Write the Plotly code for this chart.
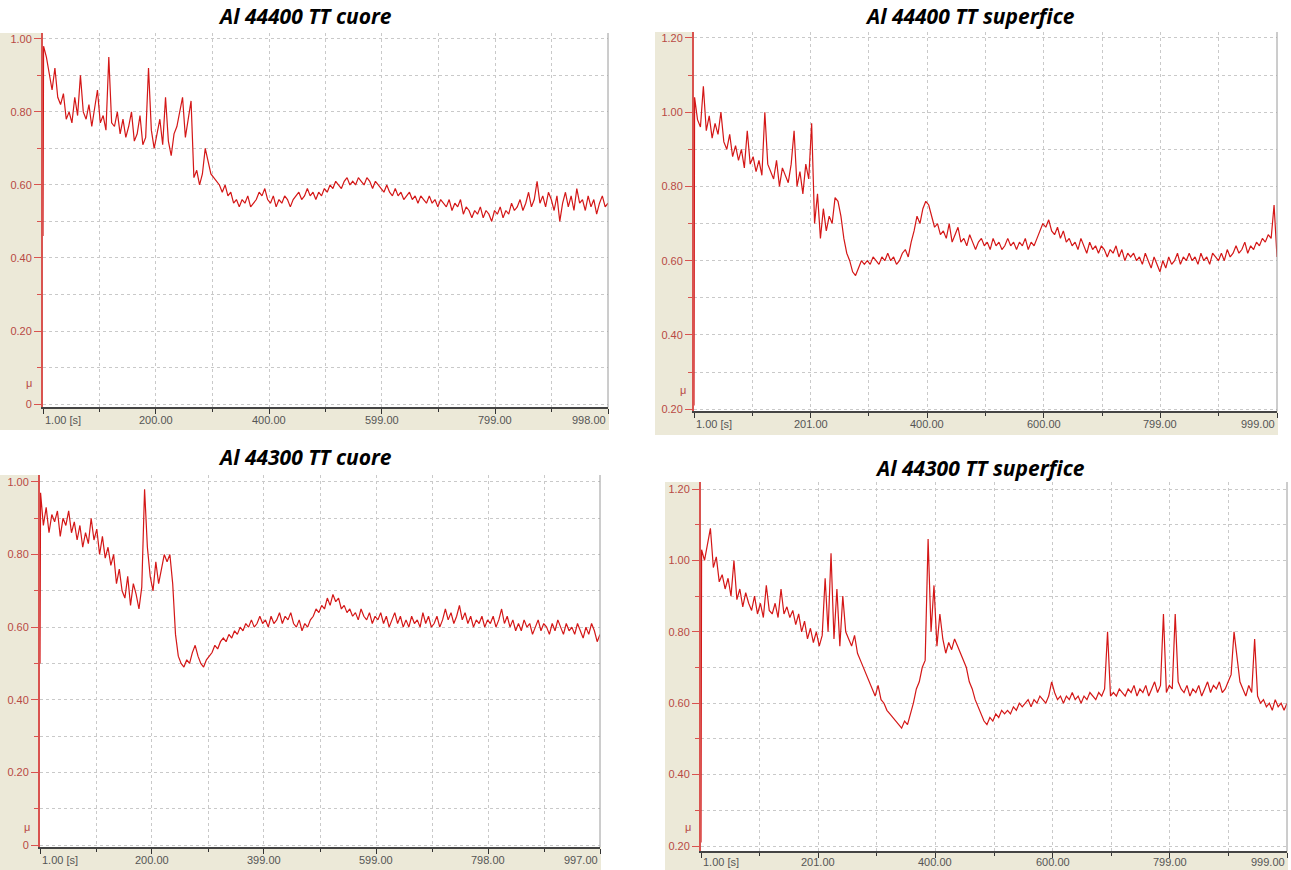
import numpy as np
import plotly.graph_objects as go

W, H = 1291, 870

# ---------------- data (friction coefficient mu vs time [s]) ----------------
titles = ["Al 44400 TT cuore", "Al 44400 TT superfice",
          "Al 44300 TT cuore", "Al 44300 TT superfice"]
t_end = [998, 999, 997, 999]

mu_44400_cuore = [0.46,
    0.98, 0.95, 0.90, 0.86, 0.92, 0.84, 0.82, 0.85, 0.78, 0.80,
    0.77, 0.84, 0.79, 0.90, 0.80, 0.78, 0.82, 0.76, 0.81, 0.86,
    0.77, 0.79, 0.75, 0.95, 0.77, 0.76, 0.80, 0.74, 0.78, 0.73,
    0.76, 0.80, 0.72, 0.74, 0.79, 0.71, 0.73, 0.92, 0.75, 0.70,
    0.74, 0.78, 0.71, 0.84, 0.72, 0.68, 0.74, 0.76, 0.80, 0.84,
    0.73, 0.78, 0.83, 0.62, 0.64, 0.60, 0.63, 0.70, 0.66, 0.63,
    0.62, 0.61, 0.60, 0.58, 0.60, 0.57, 0.58, 0.55, 0.56, 0.54,
    0.56, 0.55, 0.57, 0.54, 0.55, 0.56, 0.58, 0.57, 0.59, 0.56,
    0.55, 0.57, 0.54, 0.56, 0.55, 0.57, 0.56, 0.54, 0.56, 0.57,
    0.58, 0.56, 0.57, 0.59, 0.57, 0.58, 0.56, 0.58, 0.57, 0.59,
    0.58, 0.60, 0.59, 0.61, 0.60, 0.59, 0.61, 0.62, 0.60, 0.61,
    0.60, 0.62, 0.61, 0.60, 0.62, 0.61, 0.59, 0.61, 0.60, 0.59,
    0.58, 0.60, 0.58, 0.57, 0.59, 0.57, 0.58, 0.56, 0.57, 0.58,
    0.56, 0.57, 0.55, 0.57, 0.56, 0.55, 0.57, 0.55, 0.56, 0.54,
    0.56, 0.55, 0.54, 0.56, 0.53, 0.55, 0.54, 0.56, 0.52, 0.54,
    0.53, 0.51, 0.53, 0.52, 0.54, 0.51, 0.53, 0.52, 0.50, 0.53,
    0.52, 0.54, 0.51, 0.53, 0.52, 0.55, 0.53, 0.54, 0.56, 0.53,
    0.55, 0.58, 0.54, 0.56, 0.61, 0.55, 0.57, 0.54, 0.58, 0.56,
    0.53, 0.57, 0.50, 0.55, 0.58, 0.54, 0.57, 0.53, 0.59, 0.55,
    0.56, 0.53, 0.57, 0.54, 0.56, 0.52, 0.55, 0.57, 0.54, 0.55]

mu_44400_superfice = [0.21,
    1.04, 0.98, 0.96, 1.07, 0.95, 0.99, 0.93, 0.97, 0.94, 1.00,
    0.92, 0.90, 0.94, 0.88, 0.91, 0.87, 0.90, 0.85, 0.95, 0.86,
    0.88, 0.84, 0.87, 0.83, 1.00, 0.86, 0.84, 0.82, 0.87, 0.80,
    0.85, 0.83, 0.81, 0.86, 0.95, 0.80, 0.84, 0.78, 0.86, 0.82,
    0.97, 0.70, 0.78, 0.66, 0.74, 0.68, 0.72, 0.70, 0.77, 0.76,
    0.72, 0.66, 0.62, 0.60, 0.57, 0.56, 0.58, 0.60, 0.59, 0.60,
    0.59, 0.61, 0.60, 0.59, 0.61, 0.60, 0.62, 0.60, 0.61, 0.59,
    0.60, 0.62, 0.63, 0.61, 0.65, 0.68, 0.72, 0.70, 0.74, 0.76,
    0.75, 0.72, 0.69, 0.70, 0.67, 0.68, 0.66, 0.70, 0.65, 0.67,
    0.69, 0.65, 0.66, 0.64, 0.67, 0.65, 0.63, 0.65, 0.66, 0.64,
    0.65, 0.63, 0.66, 0.64, 0.65, 0.63, 0.64, 0.66, 0.64, 0.65,
    0.63, 0.65, 0.64, 0.66, 0.63, 0.65, 0.64, 0.66, 0.68, 0.70,
    0.69, 0.71, 0.68, 0.67, 0.69, 0.66, 0.68, 0.65, 0.66, 0.64,
    0.65, 0.63, 0.66, 0.64, 0.62, 0.65, 0.63, 0.64, 0.62, 0.64,
    0.63, 0.61, 0.63, 0.62, 0.64, 0.61, 0.63, 0.60, 0.62, 0.61,
    0.62, 0.60, 0.61, 0.59, 0.62, 0.60, 0.58, 0.61, 0.59, 0.57,
    0.60, 0.58, 0.61, 0.59, 0.60, 0.62, 0.59, 0.61, 0.60, 0.62,
    0.60, 0.61, 0.59, 0.62, 0.60, 0.61, 0.59, 0.62, 0.61, 0.60,
    0.62, 0.60, 0.63, 0.61, 0.62, 0.64, 0.62, 0.63, 0.65, 0.62,
    0.64, 0.63, 0.65, 0.64, 0.66, 0.65, 0.67, 0.66, 0.75, 0.61]

mu_44300_cuore = [0.50,
    0.97, 0.88, 0.93, 0.86, 0.91, 0.89, 0.92, 0.85, 0.90, 0.88,
    0.92, 0.86, 0.89, 0.84, 0.88, 0.82, 0.86, 0.83, 0.90, 0.84,
    0.87, 0.80, 0.85, 0.79, 0.82, 0.77, 0.80, 0.72, 0.76, 0.70,
    0.68, 0.74, 0.66, 0.72, 0.69, 0.65, 0.71, 0.98, 0.82, 0.74,
    0.70, 0.78, 0.72, 0.76, 0.80, 0.78, 0.80, 0.72, 0.58, 0.52,
    0.50, 0.49, 0.51, 0.50, 0.53, 0.55, 0.52, 0.50, 0.49, 0.51,
    0.52, 0.53, 0.55, 0.54, 0.56, 0.57, 0.56, 0.58, 0.57, 0.59,
    0.58, 0.60, 0.59, 0.61, 0.60, 0.62, 0.60, 0.61, 0.63, 0.61,
    0.62, 0.60, 0.63, 0.61, 0.62, 0.64, 0.61, 0.63, 0.62, 0.64,
    0.61, 0.60, 0.62, 0.59, 0.61, 0.60, 0.62, 0.63, 0.65, 0.64,
    0.66, 0.65, 0.68, 0.66, 0.69, 0.67, 0.68, 0.65, 0.66, 0.64,
    0.65, 0.63, 0.64, 0.62, 0.65, 0.63, 0.62, 0.64, 0.61, 0.63,
    0.62, 0.64, 0.61, 0.63, 0.60, 0.62, 0.64, 0.61, 0.63, 0.60,
    0.62, 0.60, 0.63, 0.61, 0.62, 0.60, 0.64, 0.61, 0.63, 0.60,
    0.61, 0.63, 0.60, 0.62, 0.65, 0.62, 0.64, 0.61, 0.63, 0.66,
    0.62, 0.64, 0.61, 0.63, 0.60, 0.62, 0.61, 0.63, 0.60, 0.62,
    0.61, 0.63, 0.60, 0.62, 0.65, 0.61, 0.63, 0.60, 0.62, 0.59,
    0.61, 0.59, 0.62, 0.60, 0.61, 0.58, 0.60, 0.62, 0.59, 0.61,
    0.60, 0.58, 0.61, 0.59, 0.62, 0.60, 0.58, 0.61, 0.59, 0.60,
    0.58, 0.61, 0.59, 0.57, 0.60, 0.58, 0.61, 0.59, 0.56, 0.58]

mu_44300_superfice = [0.21,
    1.03, 1.00, 1.05, 1.09, 0.98, 1.01, 0.94, 0.96, 0.92, 0.95,
    0.90, 1.00, 0.89, 0.92, 0.87, 0.91, 0.88, 0.86, 0.90, 0.85,
    0.88, 0.84, 0.93, 0.86, 0.85, 0.88, 0.84, 0.92, 0.85, 0.87,
    0.84, 0.86, 0.82, 0.85, 0.80, 0.83, 0.78, 0.81, 0.77, 0.80,
    0.76, 0.79, 0.95, 0.80, 1.02, 0.78, 0.92, 0.76, 0.90, 0.80,
    0.78, 0.76, 0.79, 0.74, 0.72, 0.70, 0.68, 0.66, 0.64, 0.62,
    0.65, 0.61, 0.60, 0.58, 0.57, 0.56, 0.55, 0.54, 0.53, 0.55,
    0.54, 0.57, 0.60, 0.64, 0.66, 0.70, 0.72, 1.06, 0.80, 0.93,
    0.76, 0.85, 0.78, 0.74, 0.77, 0.75, 0.78, 0.76, 0.74, 0.72,
    0.70, 0.66, 0.64, 0.61, 0.59, 0.57, 0.55, 0.54, 0.56, 0.55,
    0.57, 0.56, 0.58, 0.57, 0.58, 0.57, 0.59, 0.58, 0.60, 0.59,
    0.60, 0.61, 0.59, 0.61, 0.60, 0.62, 0.61, 0.60, 0.62, 0.66,
    0.63, 0.61, 0.62, 0.60, 0.62, 0.61, 0.63, 0.61, 0.62, 0.60,
    0.62, 0.61, 0.63, 0.62, 0.61, 0.63, 0.62, 0.64, 0.80, 0.62,
    0.63, 0.62, 0.64, 0.63, 0.62, 0.64, 0.63, 0.65, 0.62, 0.64,
    0.63, 0.65, 0.62, 0.64, 0.66, 0.63, 0.65, 0.85, 0.63, 0.65,
    0.64, 0.85, 0.66, 0.64, 0.63, 0.65, 0.62, 0.64, 0.63, 0.65,
    0.62, 0.64, 0.66, 0.63, 0.65, 0.64, 0.66, 0.63, 0.64, 0.66,
    0.68, 0.80, 0.72, 0.66, 0.64, 0.62, 0.65, 0.63, 0.78, 0.62,
    0.60, 0.61, 0.59, 0.60, 0.58, 0.61, 0.59, 0.60, 0.58, 0.60]

series = [mu_44400_cuore, mu_44400_superfice, mu_44300_cuore, mu_44300_superfice]

x_tick_vals = [[1, 200, 400, 599, 799, 998],
               [1, 201, 400, 600, 799, 999],
               [1, 200, 399, 599, 798, 997],
               [1, 201, 400, 600, 799, 999]]
x_tick_text = [["1.00 [s]", "200.00", "400.00", "599.00", "799.00", "998.00"],
               ["1.00 [s]", "201.00", "400.00", "600.00", "799.00", "999.00"],
               ["1.00 [s]", "200.00", "399.00", "599.00", "798.00", "997.00"],
               ["1.00 [s]", "201.00", "400.00", "600.00", "799.00", "999.00"]]
y_major = [[0, 0.2, 0.4, 0.6, 0.8, 1.0],
           [0.2, 0.4, 0.6, 0.8, 1.0, 1.2],
           [0, 0.2, 0.4, 0.6, 0.8, 1.0],
           [0.2, 0.4, 0.6, 0.8, 1.0, 1.2]]
y_major_text = [["0", "0.20", "0.40", "0.60", "0.80", "1.00"],
                ["0.20", "0.40", "0.60", "0.80", "1.00", "1.20"],
                ["0", "0.20", "0.40", "0.60", "0.80", "1.00"],
                ["0.20", "0.40", "0.60", "0.80", "1.00", "1.20"]]
y_minor = [[0.1, 0.3, 0.5, 0.7, 0.9],
           [0.3, 0.5, 0.7, 0.9, 1.1],
           [0.1, 0.3, 0.5, 0.7, 0.9],
           [0.3, 0.5, 0.7, 0.9, 1.1]]

# ---------------- layout geometry (pixels) ----------------
x_dom_px = [(43, 608), (694, 1277), (40, 600), (701, 1287)]
y_dom_px = [(33, 407), (32, 411), (475, 847), (482, 851)]   # top, bottom
y_ranges = [(-0.008, 1.016), (0.195, 1.216), (-0.0055, 1.019), (0.186, 1.2197)]
band_left_px = [0, 655, 0, 665]
band_bottom_px = [430, 435, 870, 870]
xlabel_py = [420, 424, 860, 862]
mu_pos = [(29, 383), (683, 390), (27, 827), (688, 827)]
title_pos = [(305, 16), (970, 16), (305, 457), (980, 468)]

BEIGE = "#ECE9D8"
RED = "#d41717"
AXRED = "#d9534f"
TICKRED = "#b84a44"
GRID = "#c9c9c9"


def fx(p):
    return p / W


def fy(p):
    return 1 - p / H


fig = go.Figure()
shapes = []
annotations = []

for i in range(4):
    n = i + 1
    xa = "x" if n == 1 else f"x{n}"
    ya = "y" if n == 1 else f"y{n}"
    vals = series[i]
    t = [1.0] + list(np.linspace(2, t_end[i], len(vals) - 1))
    fig.add_trace(go.Scatter(x=t, y=vals, mode="lines", xaxis=xa, yaxis=ya,
                             line=dict(color=RED, width=1.2), showlegend=False,
                             hoverinfo="skip"))

    span = t_end[i] - 1
    x_minor = [1 + k * span / 10 for k in range(1, 10, 2)]
    xkey = "xaxis" if n == 1 else f"xaxis{n}"
    ykey = "yaxis" if n == 1 else f"yaxis{n}"
    fig.update_layout(**{
        xkey: dict(domain=[fx(x_dom_px[i][0]), fx(x_dom_px[i][1])],
                   range=[1, t_end[i]], anchor=ya, automargin=False,
                   tickmode="array", tickvals=x_tick_vals[i], showticklabels=False,
                   ticks="outside", ticklen=5, tickcolor="#333", tickwidth=1,
                   showgrid=True, gridcolor=GRID, griddash="dot", gridwidth=1,
                   minor=dict(tickmode="array", tickvals=x_minor, ticks="outside",
                              ticklen=3, tickcolor="#333", showgrid=True,
                              gridcolor=GRID, griddash="dot"),
                   showline=True, linecolor="#444", linewidth=2,
                   zeroline=False, fixedrange=True),
        ykey: dict(domain=[fy(y_dom_px[i][1]), fy(y_dom_px[i][0])],
                   range=list(y_ranges[i]), anchor=xa, automargin=False,
                   tickmode="array", tickvals=y_major[i], ticktext=y_major_text[i],
                   ticks="outside", ticklen=7, tickcolor=AXRED, tickwidth=1,
                   tickfont=dict(family="Liberation Sans, Arial", size=11, color=TICKRED),
                   showgrid=True, gridcolor=GRID, griddash="dot", gridwidth=1,
                   minor=dict(tickmode="array", tickvals=y_minor[i], ticks="outside",
                              ticklen=4, tickcolor=AXRED, showgrid=True,
                              gridcolor=GRID, griddash="dot"),
                   showline=True, linecolor=AXRED, linewidth=2,
                   zeroline=False, fixedrange=True),
    })

    # beige label bands
    shapes.append(dict(type="rect", xref="paper", yref="paper", layer="below",
                       x0=fx(band_left_px[i]), x1=fx(x_dom_px[i][0]),
                       y0=fy(band_bottom_px[i]), y1=fy(y_dom_px[i][0]),
                       fillcolor=BEIGE, line=dict(width=0)))
    shapes.append(dict(type="rect", xref="paper", yref="paper", layer="below",
                       x0=fx(band_left_px[i]), x1=fx(x_dom_px[i][1] + 1),
                       y0=fy(band_bottom_px[i]), y1=fy(y_dom_px[i][1]),
                       fillcolor=BEIGE, line=dict(width=0)))
    # right border line
    shapes.append(dict(type="line", xref="paper", yref="paper", layer="above",
                       x0=fx(x_dom_px[i][1]), x1=fx(x_dom_px[i][1]),
                       y0=fy(y_dom_px[i][1]), y1=fy(y_dom_px[i][0]),
                       line=dict(color="#9a9a9a", width=1)))

    # x tick labels (first left-aligned, last right-aligned)
    for k, (v, txt) in enumerate(zip(x_tick_vals[i], x_tick_text[i])):
        anchor = "left" if k == 0 else ("right" if k == len(x_tick_vals[i]) - 1 else "center")
        annotations.append(dict(x=v, y=fy(xlabel_py[i]), xref=xa, yref="paper",
                                text=txt, showarrow=False, xanchor=anchor,
                                yanchor="middle",
                                font=dict(family="Liberation Sans, Arial", size=11,
                                          color="#555555")))
    # mu label
    annotations.append(dict(x=fx(mu_pos[i][0]), y=fy(mu_pos[i][1]), xref="paper",
                            yref="paper", text="μ", showarrow=False,
                            xanchor="center", yanchor="middle",
                            font=dict(family="Liberation Sans, Arial", size=11,
                                      color=TICKRED)))
    # title
    annotations.append(dict(x=fx(title_pos[i][0]), y=fy(title_pos[i][1]), xref="paper",
                            yref="paper", text=f"<b><i>{titles[i]}</i></b>",
                            showarrow=False, xanchor="center", yanchor="middle",
                            font=dict(family="Open Sans, sans-serif", size=21,
                                      color="#000000")))

fig.update_layout(width=W, height=H, margin=dict(l=0, r=0, t=0, b=0),
                  paper_bgcolor="white", plot_bgcolor="white",
                  shapes=shapes, annotations=annotations, showlegend=False)

fig.write_html("out.html", config={"displayModeBar": False},
               post_script="document.body.style.margin='0';"
                           "document.body.style.padding='0';"
                           "document.body.style.overflow='hidden';")
